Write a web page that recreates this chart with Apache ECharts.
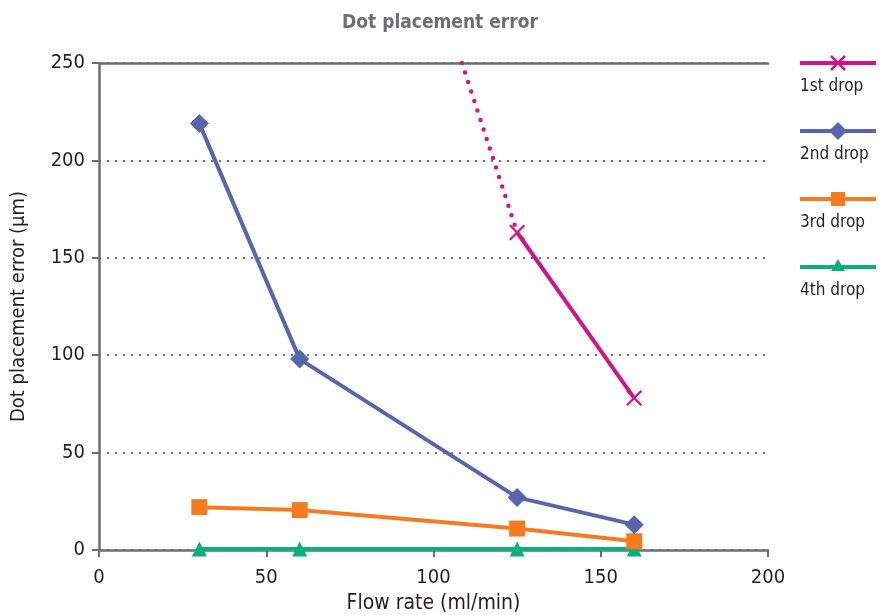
<!DOCTYPE html>
<html>
<head>
<meta charset="utf-8">
<script src="https://cdn.jsdelivr.net/npm/echarts@6/dist/echarts.min.js"></script>
<style>
  html, body { margin: 0; padding: 0; background: #fff; }
  #chart { width: 887px; height: 615px; }
</style>
</head>
<body>
<div id="chart"></div>
<script>
const flowRates = [30, 60, 125, 160];
const drop1Flow = [125, 160];
const drop1 = [163, 78];
const drop1TrendFlow = [108.5, 125];
const drop1Trend = [250, 163];
const drop2 = [219, 98, 27, 13];
const drop3 = [22, 20.5, 11, 4.5];
const drop4 = [0.5, 0.5, 0.5, 0.5];

const names = ['1st drop', '2nd drop', '3rd drop', '4th drop'];
const colors = ['#cf1689', '#5566ae', '#f47b20', '#0bb07b'];
const crossPath = 'path://M0,1L1,0L5,4L9,0L10,1L6,5L10,9L9,10L5,6L1,10L0,9L4,5Z';
const symbols = [crossPath, 'diamond', 'rect', 'triangle'];
const symbolSizes = [16, 19, 16, 15];
const axisGrey = '#6d6e71';
const textColor = '#231f20';
const font = '"DejaVu Sans Condensed", "Liberation Sans Narrow", sans-serif';

const zip = (xs, ys) => xs.map((x, i) => [x, ys[i]]);
const seriesData = [zip(drop1Flow, drop1), zip(flowRates, drop2), zip(flowRates, drop3), zip(flowRates, drop4)];

const series = seriesData.map((d, i) => ({
  name: names[i],
  type: 'line',
  data: d,
  symbol: symbols[i],
  symbolSize: symbolSizes[i],
  showAllSymbol: true,
  lineStyle: { color: colors[i], width: 4 },
  itemStyle: { color: colors[i] },
  z: 5 - i,
  animation: false
}));
series.push({
  name: '1st drop trend',
  type: 'line',
  data: zip(drop1TrendFlow, drop1Trend),
  showSymbol: false,
  lineStyle: { color: colors[0], width: 4.5, type: [0, 10], cap: 'round' },
  z: 6,
  animation: false
});

// legend, drawn as graphic: line + marker, label underneath
const legendTop = 63, legendStep = 68, legendLeft = 800, legendWidth = 76;
const markerShape = (i, cx, cy) => {
  const c = colors[i];
  if (i === 0) {
    return [
      { type: 'line', shape: { x1: cx - 7, y1: cy - 7, x2: cx + 7, y2: cy + 7 }, style: { stroke: c, lineWidth: 2.5 } },
      { type: 'line', shape: { x1: cx - 7, y1: cy + 7, x2: cx + 7, y2: cy - 7 }, style: { stroke: c, lineWidth: 2.5 } }
    ];
  }
  if (i === 1) {
    return [{ type: 'polygon', shape: { points: [[cx, cy - 9], [cx + 9, cy], [cx, cy + 9], [cx - 9, cy]] }, style: { fill: c } }];
  }
  if (i === 2) {
    return [{ type: 'rect', shape: { x: cx - 7, y: cy - 7, width: 14, height: 14 }, style: { fill: c } }];
  }
  return [{ type: 'polygon', shape: { points: [[cx, cy - 8], [cx + 7, cy + 4], [cx - 7, cy + 4]] }, style: { fill: c } }];
};
const legendGraphics = [];
names.forEach((n, i) => {
  const y = legendTop + i * legendStep;
  legendGraphics.push({ type: 'line', shape: { x1: legendLeft, y1: y, x2: legendLeft + legendWidth, y2: y }, style: { stroke: colors[i], lineWidth: 4 } });
  markerShape(i, legendLeft + 38, y).forEach(g => legendGraphics.push(g));
  legendGraphics.push({ type: 'text', left: legendLeft, top: y + 15, style: { text: n, fill: textColor, font: '17px ' + font } });
});

const option = {
  backgroundColor: '#fff',
  animation: false,
  title: {
    text: 'Dot placement error',
    left: 435,
    textAlign: 'center',
    top: 9,
    textStyle: { color: axisGrey, fontSize: 19, fontWeight: 'bold', fontFamily: font }
  },
  grid: { left: 99, right: 119, top: 63, bottom: 65, containLabel: false, outerBoundsMode: 'none' },
  xAxis: [{
    type: 'value',
    min: 0, max: 200, interval: 50,
    name: 'Flow rate (ml/min)',
    nameLocation: 'middle',
    nameGap: 43,
    nameTextStyle: { color: textColor, fontSize: 21, fontFamily: font },
    axisLine: { show: true, onZero: false, lineStyle: { color: axisGrey, width: 2.5 } },
    axisTick: { show: true, length: 7, lineStyle: { color: axisGrey, width: 2 } },
    axisLabel: { color: textColor, fontSize: 20, fontFamily: font, margin: 18 },
    splitLine: { show: false }
  }, {
    type: 'value',
    position: 'top',
    min: 0, max: 200,
    axisLine: { show: true, onZero: false, lineStyle: { color: axisGrey, width: 2.5 } },
    axisTick: { show: false },
    axisLabel: { show: false },
    splitLine: { show: false }
  }],
  yAxis: {
    type: 'value',
    min: 0, max: 250, interval: 50,
    name: 'Dot placement error (\u00b5m)',
    nameLocation: 'middle',
    nameGap: 70,
    nameTextStyle: { color: textColor, fontSize: 20, fontFamily: font },
    axisLine: { show: true, lineStyle: { color: axisGrey, width: 2.5 } },
    axisTick: { show: true, length: 7, lineStyle: { color: axisGrey, width: 2 } },
    axisLabel: { color: textColor, fontSize: 20, fontFamily: font, margin: 14 },
    splitLine: { show: true, lineStyle: { color: axisGrey, width: 2, type: [2, 6] } }
  },
  graphic: legendGraphics,
  series: series
};

const chart = echarts.init(document.getElementById('chart'), null, { renderer: 'canvas' });
chart.setOption(option);
</script>
</body>
</html>
